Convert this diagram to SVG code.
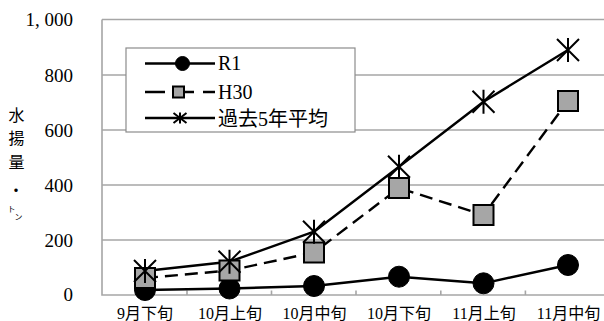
<svg xmlns="http://www.w3.org/2000/svg" width="604" height="321" viewBox="0 0 604 321">
<style>
.grid{stroke:#a6a6a6;stroke-width:1.6;fill:none}
.ylab{font-family:"Liberation Serif","Times New Roman",serif;font-size:19px;fill:#000;text-anchor:end}
.xlab{font-family:"Liberation Serif","Noto Sans CJK JP",serif;font-size:16px;fill:#000;text-anchor:middle}
.ytitle{font-family:"Noto Sans CJK JP",sans-serif;font-size:16px;fill:#000;text-anchor:middle;dominant-baseline:central}
.small{font-family:"Noto Sans CJK JP",sans-serif;font-size:8px;fill:#000;text-anchor:middle;dominant-baseline:central}
.leg{font-family:"Liberation Serif","Noto Sans CJK JP",serif;font-size:20px;fill:#000}
.ln{fill:none;stroke:#000;stroke-width:2.4;stroke-linejoin:round}
.dash{stroke-dasharray:13,7}
.dot{fill:#000;stroke:#000;stroke-width:1}
.sq{fill:#a6a6a6;stroke:#000;stroke-width:2}
.star{fill:none;stroke:#000;stroke-width:2}
</style>
<defs>
<circle id="m-dot" r="10.5"/>
<rect id="m-sq" x="-10" y="-10" width="20" height="20"/>
<path id="m-star" d="M-11,-11L11,11M11,-11L-11,11M0,-12V12"/>
</defs>
<rect width="604" height="321" fill="#fff"/>
<g id="axes">
<path class="grid" d="M102,19.5H610M102,75H610M102,130H610M102,185H610M102,240H610"/>
<path class="grid" d="M102,19.5V295.5M101.2,295H610"/>
<path class="grid" d="M187,295V290.5M271.5,295V290.5M356,295V290.5M440.8,295V290.5M525.4,295V290.5"/>
</g>
<g id="y-labels">
<text class="ylab" x="73" y="26">1, 000</text>
<text class="ylab" x="73" y="81.5">800</text>
<text class="ylab" x="73" y="136.5">600</text>
<text class="ylab" x="73" y="191.5">400</text>
<text class="ylab" x="73" y="246.5">200</text>
<text class="ylab" x="73" y="301">0</text>
</g>
<g id="y-title">
<text class="ytitle" x="16.5" y="113.5">水</text>
<text class="ytitle" x="16.5" y="137">揚</text>
<text class="ytitle" x="16.5" y="160.5">量</text>
<text class="ytitle" x="16" y="189">・</text>
<text class="small" x="11.5" y="208.5">ト</text>
<text class="small" x="18.5" y="216">ン</text>
</g>
<g id="x-labels">
<text class="xlab" x="145" y="319">9月下旬</text>
<text class="xlab" x="230" y="319">10月上旬</text>
<text class="xlab" x="314.5" y="319">10月中旬</text>
<text class="xlab" x="399" y="319">10月下旬</text>
<text class="xlab" x="484" y="319">11月上旬</text>
<text class="xlab" x="568.5" y="319">11月中旬</text>
</g>
<g id="connectors">
<polyline id="line-R1" class="ln" points="145,290 229.5,288.5 314,286 399,276.7 483.5,283.3 568,265"/>
<polyline id="line-H30" class="ln dash" points="145,278 229.5,270.5 314,252.5 399,188 483.5,215 568,101"/>
<polyline id="line-avg" class="ln" points="145,271 229.5,261.7 314,231.7 399,166.7 483.5,101.7 568,50"/>
</g>
<g id="series-R1">
<use href="#m-dot" class="dot" x="145" y="290"/>
<use href="#m-dot" class="dot" x="229.5" y="288.5"/>
<use href="#m-dot" class="dot" x="314" y="286"/>
<use href="#m-dot" class="dot" x="399" y="276.7"/>
<use href="#m-dot" class="dot" x="483.5" y="283.3"/>
<use href="#m-dot" class="dot" x="568" y="265"/>
</g>
<g id="series-H30">
<use href="#m-sq" class="sq" x="145" y="278"/>
<use href="#m-sq" class="sq" x="229.5" y="270.5"/>
<use href="#m-sq" class="sq" x="314" y="252.5"/>
<use href="#m-sq" class="sq" x="399" y="188"/>
<use href="#m-sq" class="sq" x="483.5" y="215"/>
<use href="#m-sq" class="sq" x="568" y="101"/>
</g>
<g id="series-avg">
<use href="#m-star" class="star" x="145" y="271"/>
<use href="#m-star" class="star" x="229.5" y="261.7"/>
<use href="#m-star" class="star" x="314" y="231.7"/>
<use href="#m-star" class="star" x="399" y="166.7"/>
<use href="#m-star" class="star" x="483.5" y="101.7"/>
<use href="#m-star" class="star" x="568" y="50"/>
</g>
<g id="legend">
<rect x="126" y="48" width="229" height="84" fill="#fff" stroke="#8c8c8c" stroke-width="1.2"/>
<line class="ln" x1="145" y1="63.5" x2="215" y2="63.5"/>
<circle class="dot" cx="182.5" cy="63.5" r="7"/>
<text class="leg" x="218" y="70">R1</text>
<line class="ln dash" x1="145" y1="92" x2="215" y2="92" style="stroke-dasharray:20,9"/>
<rect class="sq" x="173" y="86.5" width="11" height="11"/>
<text class="leg" x="218" y="99">H30</text>
<line class="ln" x1="145" y1="118" x2="215" y2="118"/>
<path class="star" d="M173.5,113L186.5,123M186.5,113L173.5,123M180,112.5V123.5"/>
<text class="leg" x="218" y="126">過去5年平均</text>
</g>
</svg>
